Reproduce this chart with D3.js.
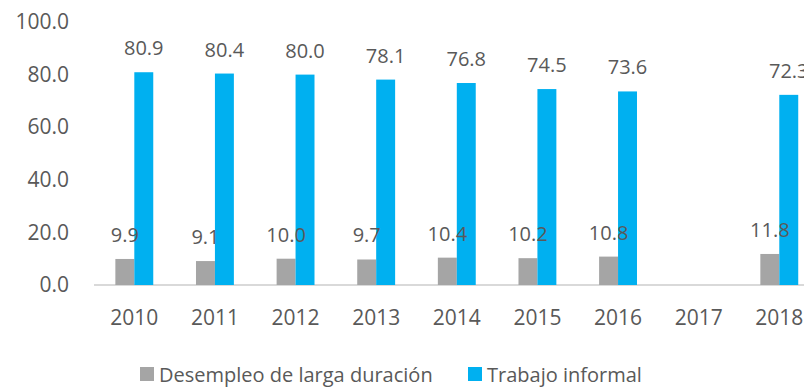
<!DOCTYPE html>
<html>
<head>
<meta charset="utf-8">
<script src="https://cdn.jsdelivr.net/npm/d3@7"></script>
<style>
  html, body { margin: 0; padding: 0; background: #fff; }
  svg { display: block; font-family: "Open Sans", "Noto Sans", sans-serif; }
</style>
</head>
<body>
<svg id="chart" width="804" height="390"></svg>
<script>
// Years on the horizontal axis (2017 has no data)
const years = ["2010", "2011", "2012", "2013", "2014", "2015", "2016", "2017", "2018"];
// Long-term unemployment (%)
const desempleo = [9.9, 9.1, 10.0, 9.7, 10.4, 10.2, 10.8, null, 11.8];
// Informal work (%)
const informal = [80.9, 80.4, 80.0, 78.1, 76.8, 74.5, 73.6, null, 72.3];
// Y axis ticks
const yTicks = [0, 20, 40, 60, 80, 100];

const seriesNames = ["Desempleo de larga duración", "Trabajo informal"];
const seriesColors = ["#A5A5A5", "#00B0F0"];
const textColor = "#595959";

const svg = d3.select("#chart");

const x0 = d3.scaleBand().domain(years).range([94, 819.6]).paddingInner(0.53).paddingOuter(0.265);
const x1 = d3.scaleBand().domain([0, 1]).range([0, x0.bandwidth()]);
const y = d3.scaleLinear().domain([0, 100]).range([285, 22]);

// Y axis labels (no line, no ticks)
const yAxis = svg.append("g")
  .attr("transform", "translate(69,0)")
  .call(d3.axisLeft(y).tickValues(yTicks).tickFormat(d3.format(".1f")).tickSize(0).tickPadding(0));
yAxis.select(".domain").remove();
yAxis.selectAll("text").attr("fill", textColor).style("font-size", "21px").style("font-family", "'Open Sans', sans-serif");

// X axis baseline and year labels
const xAxis = svg.append("g")
  .attr("transform", `translate(0,${y(0)})`)
  .call(d3.axisBottom(x0).tickSize(0).tickPadding(25));
xAxis.select(".domain").attr("stroke", "#D9D9D9").attr("stroke-width", 2)
  .attr("d", `M94,0H804`);
xAxis.selectAll("text").attr("fill", textColor).style("font-size", "21px").style("font-family", "'Open Sans', sans-serif");

// Rows of data for grouped bars
const rows = years.map((yr, i) => ({ year: yr, values: [desempleo[i], informal[i]] }));

const groups = svg.append("g").selectAll("g")
  .data(rows).join("g")
  .attr("transform", d => `translate(${x0(d.year)},0)`);

groups.selectAll("rect")
  .data(d => d.values.map((v, k) => ({ v, k })).filter(e => e.v != null))
  .join("rect")
  .attr("x", e => x1(e.k))
  .attr("width", x1.bandwidth())
  .attr("y", e => y(e.v))
  .attr("height", e => y(0) - y(e.v))
  .attr("fill", e => seriesColors[e.k]);

groups.selectAll("text")
  .data(d => d.values.map((v, k) => ({ v, k })).filter(e => e.v != null))
  .join("text")
  .attr("x", e => x1(e.k) + x1.bandwidth() / 2)
  .attr("y", e => y(e.v) - 17)
  .attr("text-anchor", "middle")
  .attr("fill", textColor)
  .style("font-size", "20px")
  .text(e => d3.format(".1f")(e.v));

// Legend
const legend = svg.append("g");
const legendX = [140, 468];
seriesNames.forEach((name, k) => {
  legend.append("rect")
    .attr("x", legendX[k]).attr("y", 367)
    .attr("width", 14).attr("height", 14)
    .attr("fill", seriesColors[k]);
  legend.append("text")
    .attr("x", legendX[k] + 19).attr("y", 375)
    .attr("dy", "0.35em")
    .attr("fill", textColor)
    .style("font-size", "20px")
    .text(name);
});
</script>
</body>
</html>
